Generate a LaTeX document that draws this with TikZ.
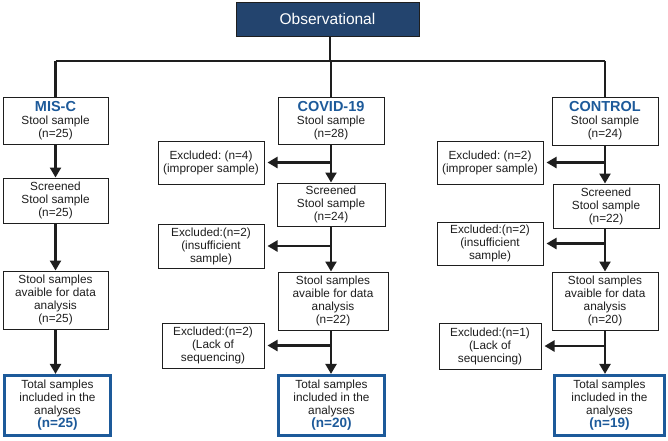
\documentclass[tikz,border=0pt]{standalone}
\usepackage{fontspec}
\setmainfont{Liberation Sans}
\usetikzlibrary{arrows.meta}
\frenchspacing
\definecolor{navy}{HTML}{23446E}
\definecolor{hblue}{HTML}{1D5A9A}
\definecolor{ink}{HTML}{1E1E1E}
\tikzset{
  box/.style={draw=ink, line width=1pt, fill=white, align=center, inner sep=1pt,
    font=\fontsize{11.8}{13}\selectfont, text=ink},
  finalbox/.style={box, draw=hblue, line width=3.2pt},
  topbox/.style={draw=ink, line width=1pt, fill=navy, text=white,
    font=\fontsize{15.5}{17}\selectfont, minimum width=183pt, minimum height=34pt},
  conn/.style={draw=ink, line width=2.3pt},
  arr/.style={conn, -{Triangle[length=10pt,width=11pt]}},
}
\newcommand{\hd}[1]{{\fontsize{14.5}{15.5}\selectfont\bfseries\color{hblue}#1}}
\newcommand{\nb}[1]{{\fontsize{13.5}{15}\selectfont\bfseries\color{hblue}#1}}
\begin{document}
\begin{tikzpicture}[x=1pt,y=-1pt]
\useasboundingbox (0,0) rectangle (668,440);
\node[topbox] (obs) at (327.5,19) {Observational};
% MIS-C
\node[box, minimum width=105pt, minimum height=47pt] (m1) at (55.5,120.5) {\hd{MIS-C}\\Stool sample\\(n=25)};
\node[box, minimum width=105pt, minimum height=45pt] (m2) at (55.5,200.5) {Screened\\Stool sample\\(n=25)};
\node[box, minimum width=105pt, minimum height=58pt] (m3) at (55.5,300) {Stool samples\\avaible for data\\analysis\\(n=25)};
\node[finalbox, minimum width=106pt, minimum height=60pt] (m4) at (57.5,405.5) {Total samples\\included in the\\analyses\\\nb{(n=25)}};
% COVID-19
\node[box, minimum width=106pt, minimum height=47pt] (c1) at (331,120.5) {\hd{COVID-19}\\Stool sample\\(n=28)};
\node[box, minimum width=108pt, minimum height=43pt] (c2) at (331,204.5) {Screened\\Stool sample\\(n=24)};
\node[box, minimum width=110pt, minimum height=58pt] (c3) at (333,301) {Stool samples\\avaible for data\\analysis\\(n=22)};
\node[finalbox, minimum width=106pt, minimum height=60pt] (c4) at (331.5,405.5) {Total samples\\included in the\\analyses\\\nb{(n=20)}};
\node[box, minimum width=106pt, minimum height=43pt] (ce1) at (211,162.5) {Excluded: (n=4)\\(improper sample)};
\node[box, minimum width=106pt, minimum height=44pt] (ce2) at (211,246) {Excluded:(n=2)\\(insufficient\\sample)};
\node[box, minimum width=102pt, minimum height=45pt] (ce3) at (213,345.5) {Excluded:(n=2)\\(Lack of\\sequencing)};
% CONTROL
\node[box, minimum width=106pt, minimum height=48pt] (k1) at (605,121) {\hd{CONTROL}\\Stool sample\\(n=24)};
\node[box, minimum width=106pt, minimum height=44pt] (k2) at (606,206) {Screened\\Stool sample\\(n=22)};
\node[box, minimum width=106pt, minimum height=58pt] (k3) at (605,301) {Stool samples\\avaible for data\\analysis\\(n=20)};
\node[finalbox, minimum width=110pt, minimum height=60pt] (k4) at (609.5,405.5) {Total samples\\included in the\\analyses\\\nb{(n=19)}};
\node[box, minimum width=106pt, minimum height=43pt] (ke1) at (490,162.5) {Excluded: (n=2)\\(improper sample)};
\node[box, minimum width=106pt, minimum height=43pt] (ke2) at (490,243.5) {Excluded:(n=2)\\(insufficient\\sample)};
\node[box, minimum width=102pt, minimum height=46pt] (ke3) at (490,346) {Excluded:(n=1)\\(Lack of\\sequencing)};
% top tree
\coordinate (j) at (330,61);
\draw[conn] (obs.south -| j) -- (j);
\draw[conn] (m1.north |- j) -- (k1.north |- j);
\draw[conn] (m1.north |- j) -- (m1.north);
\draw[conn] (c1.north |- j) -- (c1.north);
\draw[conn] (k1.north |- j) -- (k1.north);
% MIS-C flow
\draw[arr] (m1.south) -- (m1.south |- m2.north);
\draw[arr] (m2.south) -- (m2.south |- m3.north);
\draw[arr] (m3.south) -- (m3.south |- m4.north);
% COVID flow
\draw[arr] (c1.south) -- (c1.south |- c2.north);
\draw[arr] (c2.south -| c1.south) -- (c1.south |- c3.north);
\draw[arr] (c3.south -| c1.south) -- (c1.south |- c4.north);
\draw[arr] (c1.south |- ce1.east) -- ([xshift=3pt]ce1.east);
\draw[arr] (c1.south |- ce2.east) -- ([xshift=3pt]ce2.east);
\draw[arr] (c1.south |- ce3.east) -- ([xshift=3pt]ce3.east);
% CONTROL flow
\draw[arr] (k1.south) -- (k1.south |- k2.north);
\draw[arr] (k2.south -| k1.south) -- (k1.south |- k3.north);
\draw[arr] (k3.south -| k1.south) -- (k1.south |- k4.north);
\draw[arr] (k1.south |- ke1.east) -- ([xshift=3pt]ke1.east);
\draw[arr] (k1.south |- ke2.east) -- ([xshift=3pt]ke2.east);
\draw[arr] (k1.south |- ke3.east) -- ([xshift=3pt]ke3.east);
\end{tikzpicture}
\end{document}
